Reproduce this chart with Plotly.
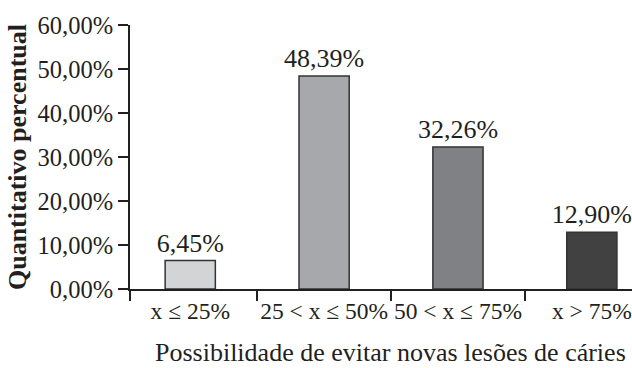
import plotly.graph_objects as go

categories = ["x ≤ 25%", "25 < x ≤ 50%", "50 < x ≤ 75%", "x > 75%"]
values = [6.45, 48.39, 32.26, 12.90]
bar_colors = ["#d3d4d6", "#a7a8ab", "#808184", "#414142"]
y_ticks = [0, 10, 20, 30, 40, 50, 60]
y_tick_labels = ["0,00%", "10,00%", "20,00%", "30,00%", "40,00%", "50,00%", "60,00%"]
x_title = "Possibilidade de evitar novas lesões de cáries"
y_title = "Quantitativo percentual"

xpos = list(range(len(categories)))
boundaries = [-0.45] + [i + 0.5 for i in xpos[:-1]]

FONT = "Liberation Serif, Times New Roman, serif"
INK = "#231f20"

fig = go.Figure()
fig.add_trace(go.Bar(
    x=xpos, y=values, width=0.375,
    marker=dict(color=bar_colors, line=dict(color="#333333", width=1.5)),
    texttemplate="%{y:.2f}%", textposition="outside", cliponaxis=False,
    constraintext="none",
    textfont=dict(family=FONT, size=26, color=INK),
))

fig.update_layout(
    width=632, height=368,
    margin=dict(l=130, r=0, t=25, b=79),
    paper_bgcolor="white", plot_bgcolor="white",
    separators=",.",
    showlegend=False,
    font=dict(family=FONT, color=INK),
    xaxis=dict(
        range=[-0.45, 3.3], tickmode="array", tickvals=xpos, ticktext=categories,
        ticks="", showgrid=False, zeroline=False, tickangle=0, automargin=False,
        ticklabeloverflow="allow",
        showline=True, linecolor=INK, linewidth=1.5,
        tickfont=dict(family=FONT, size=23.5, color=INK),
        minor=dict(tickmode="array", tickvals=boundaries, ticks="outside",
                   ticklen=10, tickwidth=2, tickcolor=INK, showgrid=False),
    ),
    yaxis=dict(
        range=[0, 60], tickmode="array", tickvals=y_ticks, ticktext=y_tick_labels,
        ticks="outside", ticklen=10, tickwidth=1.5, tickcolor=INK, automargin=False,
        showgrid=False, zeroline=False,
        showline=True, linecolor=INK, linewidth=2,
        tickfont=dict(family=FONT, size=24.5, color=INK),
    ),
    annotations=[
        dict(text=x_title, xref="paper", yref="paper", x=0.518, y=-0.242,
             xanchor="center", yanchor="middle", showarrow=False,
             font=dict(family=FONT, size=26, color=INK)),
        dict(text="<b>" + y_title + "</b>", xref="paper", yref="paper", x=-0.225, y=0.5,
             xanchor="center", yanchor="middle", textangle=-90, showarrow=False,
             font=dict(family=FONT, size=26, color=INK)),
    ],
)

fig.write_html("out.html")
